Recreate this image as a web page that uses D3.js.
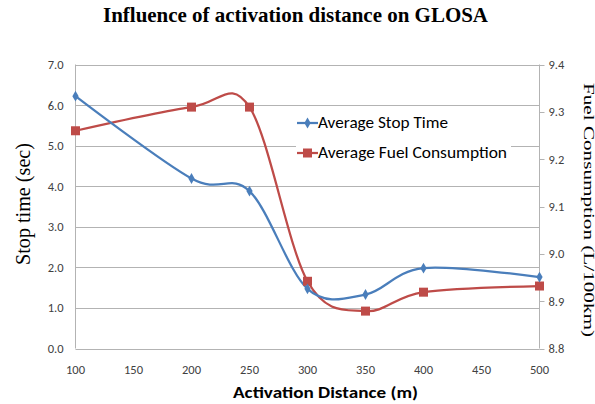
<!DOCTYPE html>
<html>
<head>
<meta charset="utf-8">
<script src="https://cdn.jsdelivr.net/npm/d3@7"></script>
<style>
  body { margin: 0; background: #fff; }
  svg { display: block; }
</style>
</head>
<body>
<svg id="chart" width="595" height="404"></svg>
<script>
// data
var distances = [100, 200, 250, 300, 350, 400, 500];
var stopTime = [6.22, 4.19, 3.88, 1.47, 1.33, 1.98, 1.76];
var fuelUse = [9.26, 9.31, 9.31, 8.942, 8.879, 8.919, 8.932];
var xTicks = [100, 150, 200, 250, 300, 350, 400, 450, 500];
var leftTicks = [0, 1, 2, 3, 4, 5, 6, 7];
var rightTicks = [8.8, 8.9, 9.0, 9.1, 9.2, 9.3, 9.4];

var svg = d3.select("#chart");
// note: "top" clashes with window.top, so use plot* names
var plotL = 75.5, plotR = 539.5, plotT = 64.5, plotB = 348.5;

var x = d3.scaleLinear().domain([100, 500]).range([plotL, plotR]);
var yL = d3.scaleLinear().domain([0, 7]).range([plotB, plotT]);
var yR = d3.scaleLinear().domain([8.8, 9.4]).range([plotB, plotT]);

var gridCol = "#b3b3b3", tickCol = "#404040";
var sans = "Calibri, Carlito, 'Open Sans', 'Liberation Sans', sans-serif";
var serif = "'Times New Roman', 'Liberation Serif', 'DejaVu Serif', serif";

// gridlines
svg.append("g").selectAll("line")
  .data(leftTicks).enter().append("line")
  .attr("x1", plotL).attr("x2", plotR)
  .attr("y1", d => Math.round(yL(d)) + 0.5).attr("y2", d => Math.round(yL(d)) + 0.5)
  .attr("stroke", gridCol).attr("stroke-width", 1);

// axis frame lines
svg.append("line").attr("x1", plotL).attr("x2", plotL).attr("y1", plotT).attr("y2", plotB)
  .attr("stroke", gridCol);
svg.append("line").attr("x1", plotR).attr("x2", plotR).attr("y1", plotT).attr("y2", plotB)
  .attr("stroke", gridCol);

// left axis labels
svg.append("g").selectAll("text")
  .data(leftTicks).enter().append("text")
  .attr("x", plotL - 12).attr("y", d => yL(d) + 4.5)
  .attr("text-anchor", "end")
  .style("font", "12.5px " + sans).attr("fill", tickCol)
  .text(d => d.toFixed(1));

// right axis ticks + labels
var rg = svg.append("g");
rg.selectAll("line").data(rightTicks).enter().append("line")
  .attr("x1", plotR).attr("x2", plotR + 5)
  .attr("y1", d => Math.round(yR(d)) + 0.5).attr("y2", d => Math.round(yR(d)) + 0.5)
  .attr("stroke", gridCol);
rg.selectAll("text").data(rightTicks).enter().append("text")
  .attr("x", plotR + 9).attr("y", d => yR(d) + 4.5)
  .style("font", "12.5px " + sans).attr("fill", tickCol)
  .text(d => d.toFixed(1));

// x axis labels
svg.append("g").selectAll("text")
  .data(xTicks).enter().append("text")
  .attr("x", d => x(d)).attr("y", plotB + 25)
  .attr("text-anchor", "middle")
  .style("font", "12.5px " + sans).attr("fill", tickCol)
  .text(d => d);

// titles (the source image is stretched, so widths are pinned with textLength)
svg.append("text").attr("x", 295.5).attr("y", 22).attr("text-anchor", "middle")
  .style("font", "bold 21px " + serif).attr("fill", "#000")
  .attr("textLength", 385).attr("lengthAdjust", "spacingAndGlyphs")
  .text("Influence of activation distance on GLOSA");

svg.append("text").attr("x", 325.5).attr("y", 398).attr("text-anchor", "middle")
  .style("font", "bold 16.5px " + sans).attr("fill", "#000")
  .attr("textLength", 185).attr("lengthAdjust", "spacingAndGlyphs")
  .text("Activation Distance (m)");

svg.append("text")
  .attr("transform", "translate(29.5,204) rotate(-90)")
  .attr("text-anchor", "middle")
  .style("font", "22px " + serif).attr("fill", "#000")
  .attr("textLength", 122).attr("lengthAdjust", "spacingAndGlyphs")
  .text("Stop time (sec)");

svg.append("text")
  .attr("transform", "translate(583.5,210) rotate(90)")
  .attr("text-anchor", "middle")
  .style("font", "14px " + serif).attr("fill", "#000")
  .attr("textLength", 254).attr("lengthAdjust", "spacingAndGlyphs")
  .text("Fuel Consumption (L/100km)");

var blue = "#4a7ebb", red = "#be4b48";
var curve = d3.curveCardinal.tension(0);

var blueLine = d3.line().x((d, i) => x(distances[i])).y(d => yL(d)).curve(curve);
var redLine = d3.line().x((d, i) => x(distances[i])).y(d => yR(d)).curve(curve);

svg.append("path").datum(fuelUse).attr("d", redLine)
  .attr("fill", "none").attr("stroke", red).attr("stroke-width", 2.25);
svg.append("path").datum(stopTime).attr("d", blueLine)
  .attr("fill", "none").attr("stroke", blue).attr("stroke-width", 2.25);

var diamond = d3.symbol().type(d3.symbolDiamond).size(34);
svg.append("g").selectAll("rect")
  .data(fuelUse).enter().append("rect")
  .attr("x", (d, i) => x(distances[i]) - 4.5).attr("y", d => yR(d) - 4.5)
  .attr("width", 9).attr("height", 9).attr("fill", red);
svg.append("g").selectAll("path")
  .data(stopTime).enter().append("path")
  .attr("d", diamond)
  .attr("transform", (d, i) => "translate(" + x(distances[i]) + "," + yL(d) + ")")
  .attr("fill", blue);

// legend
var legend = [
  { name: "Average Stop Time", color: blue, mark: "diamond", y: 123, w: 130 },
  { name: "Average Fuel Consumption", color: red, mark: "square", y: 153, w: 189 }
];
var lg = svg.append("g");
legend.forEach(function(l) {
  lg.append("rect").attr("x", 296).attr("y", l.y - 9).attr("width", 215).attr("height", 18).attr("fill", "#fff");
  lg.append("line").attr("x1", 297).attr("x2", 318).attr("y1", l.y).attr("y2", l.y)
    .attr("stroke", l.color).attr("stroke-width", 2.25);
  if (l.mark == "diamond") {
    lg.append("path").attr("d", diamond).attr("transform", "translate(307.5," + l.y + ")").attr("fill", l.color);
  } else {
    lg.append("rect").attr("x", 303).attr("y", l.y - 4.5).attr("width", 9).attr("height", 9).attr("fill", l.color);
  }
  lg.append("text").attr("x", 318).attr("y", l.y + 5)
    .style("font", "16.5px " + sans).attr("fill", "#000")
    .attr("textLength", l.w).attr("lengthAdjust", "spacingAndGlyphs")
    .text(l.name);
});
</script>
</body>
</html>
